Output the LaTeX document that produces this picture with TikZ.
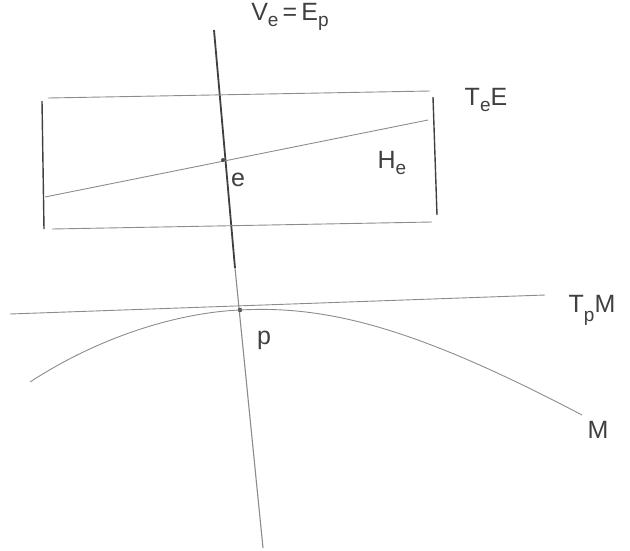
\documentclass[tikz,border=0pt]{standalone}
\usepackage{fontspec}
\setmainfont{Liberation Sans}
\begin{document}
\begin{tikzpicture}[x=1pt,y=-1pt,
  thinln/.style={draw=black!45,line width=0.9pt},
  darkln/.style={draw=black!75,line width=1.8pt},
  lbl/.style={text=black!75,font=\fontsize{25}{27}\selectfont,inner sep=1pt}]
\useasboundingbox (0,0) rectangle (630,550);
% vertical fibre
\coordinate (vtop) at (214,30);
\coordinate (vmid) at (235,268);
\coordinate (vbot) at (263,548);
\coordinate (e) at (223,160);
\coordinate (p) at (240,310);
\draw[darkln] (vtop) -- (vmid);
\draw[thinln,line width=1.1pt] (vmid) -- (vbot);
% rectangle T_eE
\coordinate (tl) at (48,98);
\coordinate (tr) at (430,91);
\coordinate (bl) at (52,229);
\coordinate (br) at (432,222);
\draw[thinln] (tl) -- (tr);
\draw[thinln] (bl) -- (br);
\coordinate (lt) at (42,101);
\coordinate (lb) at (44,229);
\coordinate (rt) at (433,97);
\coordinate (rb) at (437,215);
\draw[darkln,line width=1.4pt] (lt) -- (lb);
\draw[darkln,line width=1.4pt] (rt) -- (rb);
% H_e
\coordinate (h1) at (45,197);
\coordinate (h2) at (428,120);
\draw[thinln] (h1) -- (h2);
\fill[black!70] (e) circle (2pt);
% T_pM
\coordinate (t1) at (10,314);
\coordinate (t2) at (545,295);
\draw[thinln] (t1) -- (t2);
\fill[black!70] (p) circle (2.2pt);
% curve M
\coordinate (m1) at (30,382);
\coordinate (m2) at (582,415);
\draw[thinln] (m1) .. controls (110,330) and (190,312) .. (p)
  .. controls (330,305) and (420,330) .. (m2);
% labels
\node[lbl] (Ve) at (290,17) {V\raisebox{-6pt}{\fontsize{19}{20}\selectfont e}\,=\,E\raisebox{-6pt}{\fontsize{19}{20}\selectfont p}};
\node[lbl] (TeE) at (486,100) {T\raisebox{-6pt}{\fontsize{19}{20}\selectfont e}E};
\node[lbl] (elab) at (238,180) {e};
\node[lbl] (He) at (392,163) {H\raisebox{-6pt}{\fontsize{19}{20}\selectfont e}};
\node[lbl] (plab) at (264,340) {p};
\node[lbl] (TpM) at (592,310) {T\raisebox{-9pt}{\fontsize{19}{20}\selectfont p}M};
\node[lbl] (Mlab) at (598,430) {M};
\end{tikzpicture}
\end{document}
